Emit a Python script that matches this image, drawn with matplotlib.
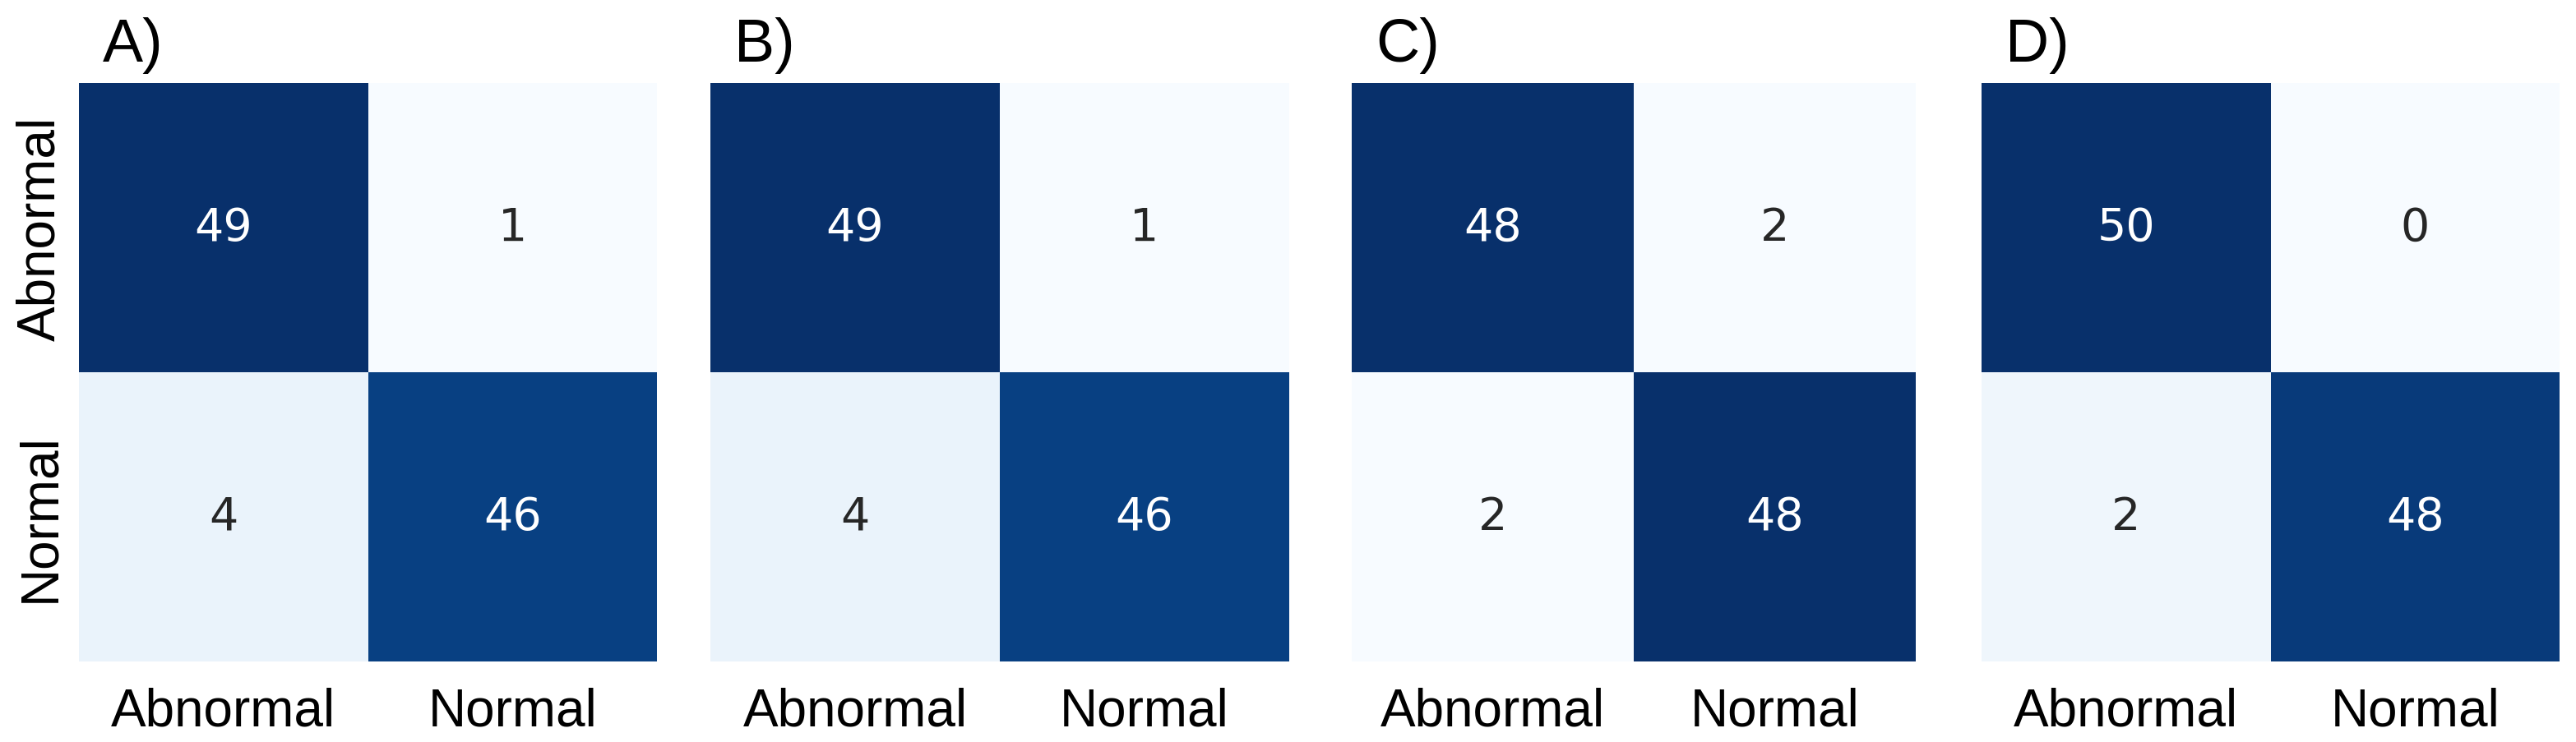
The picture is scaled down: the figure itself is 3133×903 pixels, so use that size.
import matplotlib
matplotlib.use("Agg")
import matplotlib.pyplot as plt
import seaborn as sns
import numpy as np

# confusion matrices (rows: true, cols: predicted)
classes = ["Abnormal", "Normal"]
panel_labels = ["A)", "B)", "C)", "D)"]
cm_a = [[49, 1], [4, 46]]
cm_b = [[49, 1], [4, 46]]
cm_c = [[48, 2], [2, 48]]
cm_d = [[50, 0], [2, 48]]
matrices = [cm_a, cm_b, cm_c, cm_d]

W, H = 3133, 904
fig = plt.figure(figsize=(W / 100, H / 100), dpi=100)

# axes boxes in pixels: left, width
boxes = [(96, 703), (864, 704), (1644, 686), (2410, 703)]
top_px, bot_px = 102, 806

for i, (cm, lab, (lx, wx)) in enumerate(zip(matrices, panel_labels, boxes)):
    ax = fig.add_axes([lx / W, (H - bot_px) / H, wx / W, (bot_px - top_px) / H])
    sns.heatmap(np.array(cm), ax=ax, cmap="Blues", annot=True, fmt="d", cbar=False,
                annot_kws={"fontsize": 40, "family": "DejaVu Sans"})
    ax.set_xticklabels(classes, fontsize=46, family="Liberation Sans")
    if i == 0:
        ax.set_yticklabels(classes, fontsize=46, family="Liberation Sans",
                           rotation=90, va="center")
    else:
        ax.set_yticks([])
    ax.tick_params(axis="x", length=0, pad=22)
    ax.tick_params(axis="y", length=0, pad=12)
    fig.text((lx + 29) / W, 1 - 55 / H, lab, fontsize=53, family="Liberation Sans",
             ha="left", va="center")

fig.savefig("out.png", dpi=100)
